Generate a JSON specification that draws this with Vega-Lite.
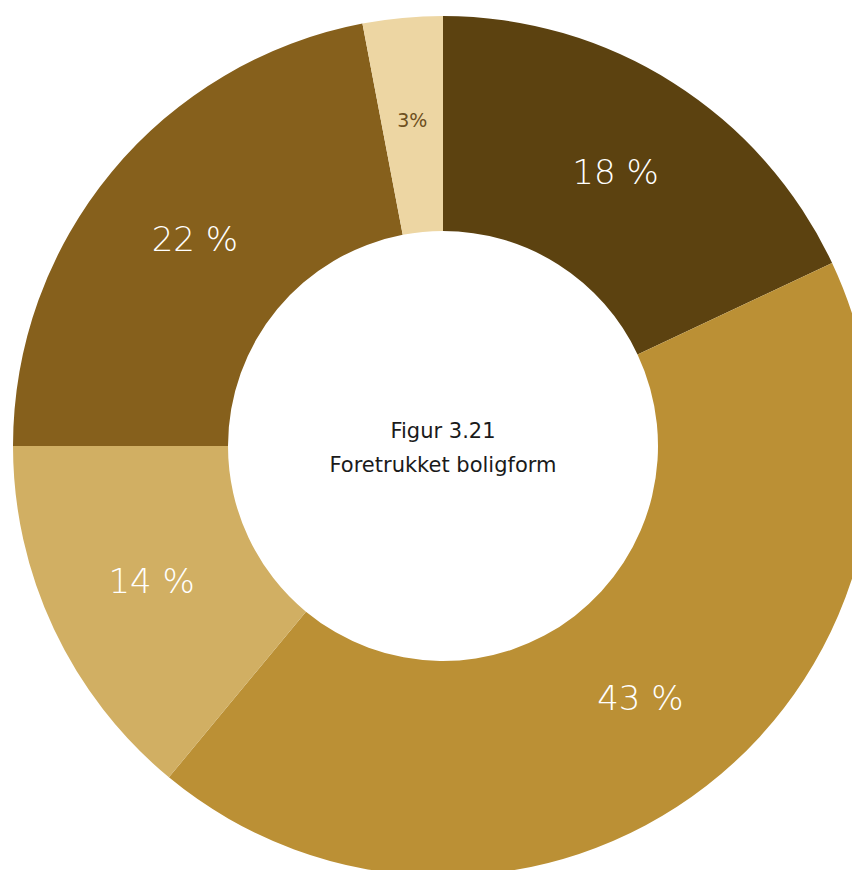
{
  "$schema": "https://vega.github.io/schema/vega-lite/v6.json",
  "width": 886,
  "height": 892,
  "autosize": {"type": "none"},
  "padding": {"left": 0, "top": 0, "right": -34, "bottom": -22},
  "background": "#ffffff",
  "config": {"view": {"stroke": null}},
  "data": {
    "values": [
      {"kategori": "A", "andel": 18, "label": "18 %", "rekkefolge": 1},
      {"kategori": "B", "andel": 43, "label": "43 %", "rekkefolge": 2},
      {"kategori": "C", "andel": 14, "label": "14 %", "rekkefolge": 3},
      {"kategori": "D", "andel": 22, "label": "22 %", "rekkefolge": 4},
      {"kategori": "E", "andel": 3, "label": "3%", "rekkefolge": 5}
    ]
  },
  "encoding": {
    "theta": {"field": "andel", "type": "quantitative", "stack": true},
    "order": {"field": "rekkefolge", "type": "quantitative"}
  },
  "layer": [
    {
      "mark": {"type": "arc", "radius": 430, "radius2": 215, "stroke": null},
      "encoding": {
        "color": {
          "field": "kategori",
          "type": "nominal",
          "scale": {
            "domain": ["A", "B", "C", "D", "E"],
            "range": ["#5C4210", "#BB9035", "#D1AF63", "#86601C", "#EDD6A3"]
          },
          "legend": null
        }
      }
    },
    {
      "mark": {"type": "text", "radius": 322, "font": "DejaVu Sans", "fontWeight": 200, "fontSize": 34, "color": "#ffffff", "align": "center", "baseline": "middle"},
      "encoding": {
        "text": {"condition": {"test": "datum.andel < 5", "value": ""}, "field": "label"}
      }
    },
    {
      "mark": {"type": "text", "radius": 326, "font": "DejaVu Sans", "fontSize": 19, "color": "#6E5020", "align": "center", "baseline": "middle"},
      "encoding": {
        "text": {"condition": {"test": "datum.andel >= 5", "value": ""}, "field": "label"}
      }
    },
    {
      "data": {"values": [{"tekst": ["Figur 3.21", "Foretrukket boligform"]}]},
      "mark": {"type": "text", "fontSize": 21, "font": "DejaVu Sans", "color": "#1a1a1a", "align": "center", "baseline": "middle", "lineHeight": 34, "dy": -14},
      "encoding": {"text": {"field": "tekst"}, "theta": null, "order": null}
    }
  ]
}
